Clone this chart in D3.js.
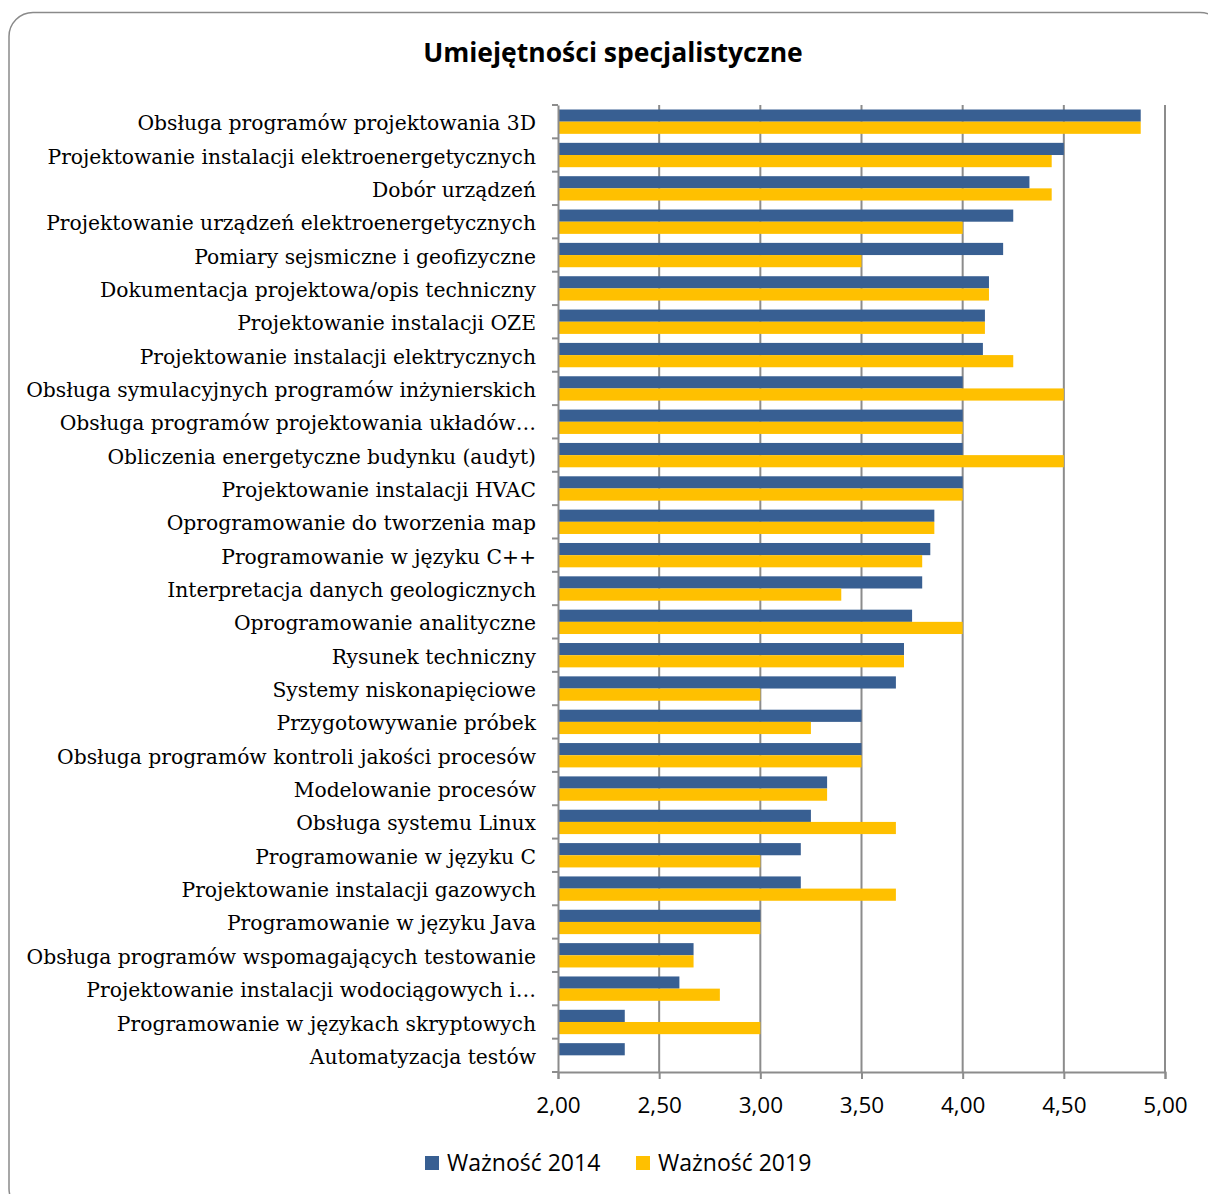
<!DOCTYPE html>
<html><head><meta charset="utf-8">
<script src="https://cdn.jsdelivr.net/npm/d3@7"></script>
<style>body{margin:0;background:#fff}svg{display:block}</style>
</head><body>
<script>
const categories = [
"Obsługa programów projektowania 3D",
"Projektowanie instalacji elektroenergetycznych",
"Dobór urządzeń",
"Projektowanie urządzeń elektroenergetycznych",
"Pomiary sejsmiczne i geofizyczne",
"Dokumentacja projektowa/opis techniczny",
"Projektowanie instalacji OZE",
"Projektowanie instalacji elektrycznych",
"Obsługa symulacyjnych programów inżynierskich",
"Obsługa programów projektowania układów…",
"Obliczenia energetyczne budynku (audyt)",
"Projektowanie instalacji HVAC",
"Oprogramowanie do tworzenia map",
"Programowanie w języku C++",
"Interpretacja danych geologicznych",
"Oprogramowanie analityczne",
"Rysunek techniczny",
"Systemy niskonapięciowe",
"Przygotowywanie próbek",
"Obsługa programów kontroli jakości procesów",
"Modelowanie procesów",
"Obsługa systemu Linux",
"Programowanie w języku C",
"Projektowanie instalacji gazowych",
"Programowanie w języku Java",
"Obsługa programów wspomagających testowanie",
"Projektowanie instalacji wodociągowych i…",
"Programowanie w językach skryptowych",
"Automatyzacja testów"
];
const values2014 = [4.88,4.50,4.33,4.25,4.20,4.13,4.11,4.10,4.00,4.00,4.00,4.00,3.86,3.84,3.80,3.75,3.71,3.67,3.50,3.50,3.33,3.25,3.20,3.20,3.00,2.67,2.60,2.33,2.33];
const values2019 = [4.88,4.44,4.44,4.00,3.50,4.13,4.11,4.25,4.50,4.00,4.50,4.00,3.86,3.80,3.40,4.00,3.71,3.00,3.25,3.50,3.33,3.67,3.00,3.67,3.00,2.67,2.80,3.00,null];
const seriesNames = ["Ważność 2014","Ważność 2019"];
const xTicks = [2.0,2.5,3.0,3.5,4.0,4.5,5.0];

const W=1208,H=1194;
const svg=d3.select("body").append("svg").attr("width",W).attr("height",H);
svg.append("rect").attr("x",9).attr("y",12.5).attr("width",1215).attr("height",1200)
  .attr("rx",24).attr("fill","#fff").attr("stroke","#8a8a8a").attr("stroke-width",1.5);

svg.append("text").attr("x",613).attr("y",62).attr("text-anchor","middle")
  .attr("font-family","'Open Sans', 'Liberation Sans', sans-serif").attr("font-weight","bold")
  .attr("font-size",26.5).attr("fill","#000").text("Umiejętności specjalistyczne");

const pL=558,pR=1165,pT=105,pB=1072;
const x=d3.scaleLinear().domain([2,5]).range([pL,pR]);
const y=d3.scaleBand().domain(categories).range([pT,pB]);
const inner=d3.scaleBand().domain(seriesNames).range([0,y.bandwidth()]).paddingOuter(0.37).paddingInner(0);
const colors=["#385F92","#FFC000"];

// gridlines
svg.append("g").selectAll("line").data(xTicks.slice(1)).join("line")
  .attr("x1",d=>x(d)).attr("x2",d=>x(d)).attr("y1",pT).attr("y2",pB)
  .attr("stroke","#8c8c8c").attr("stroke-width",2);

// bars
const data=[];
categories.forEach((c,i)=>{
  [values2014[i],values2019[i]].forEach((v,j)=>{ if(v!=null) data.push({c,s:seriesNames[j],v,j}); });
});
svg.append("g").selectAll("rect").data(data).join("rect")
  .attr("x",x(2)).attr("y",d=>y(d.c)+inner(d.s))
  .attr("width",d=>x(d.v)-x(2)).attr("height",inner.bandwidth())
  .attr("fill",d=>colors[d.j]);

// left axis (category)
const yAxis=d3.axisLeft(y).tickSize(0).tickPadding(22);
const gy=svg.append("g").attr("transform",`translate(${pL},0)`).call(yAxis);
gy.select(".domain").attr("stroke","#8c8c8c").attr("stroke-width",2);
gy.selectAll("text").attr("font-family","'DejaVu Serif', serif").attr("font-size",20.3).attr("fill","#000").attr("dy","0.42em");
// category boundary ticks
const bounds=categories.map(c=>y(c)).concat([pB]);
svg.append("g").selectAll("line").data(bounds).join("line")
  .attr("x1",pL-6).attr("x2",pL).attr("y1",d=>d).attr("y2",d=>d)
  .attr("stroke","#8c8c8c").attr("stroke-width",2);

// bottom axis
const xAxis=d3.axisBottom(x).tickValues(xTicks).tickSize(7).tickPadding(18)
  .tickFormat(d=>d3.format(".2f")(d).replace(".",","));
const gx=svg.append("g").attr("transform",`translate(0,${pB})`).call(xAxis);
gx.select(".domain").attr("stroke","#8c8c8c").attr("stroke-width",2);
gx.selectAll(".tick line").attr("stroke","#8c8c8c").attr("stroke-width",2);
gx.selectAll("text").attr("font-family","'Open Sans', 'Liberation Sans', sans-serif").attr("font-size",22.5).attr("fill","#000");

// legend
const legX=[425,636];
const lg=svg.append("g").selectAll("g").data(seriesNames).join("g")
  .attr("transform",(d,i)=>`translate(${legX[i]},1156)`);
lg.append("rect").attr("width",14).attr("height",14).attr("fill",(d,i)=>colors[i]);
lg.append("text").attr("x",22).attr("y",15).attr("font-family","'Open Sans', 'Liberation Sans', sans-serif")
  .attr("font-size",23).attr("fill","#000").text(d=>d);
</script>
</body></html>
